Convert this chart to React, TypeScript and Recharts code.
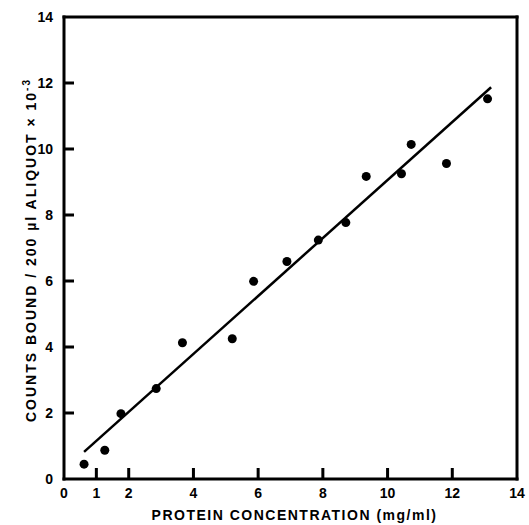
import React from 'react';
import { ComposedChart, Scatter, Line, XAxis, YAxis, Label } from 'recharts';

// measured points (mg/ml, counts x 10^-3)
const proteinConc = [0.62, 1.26, 1.76, 2.85, 3.66, 5.2, 5.86, 6.89, 7.86, 8.71, 9.34, 10.43, 10.73, 11.82, 13.09];
const countsBound = [0.45, 0.87, 1.98, 2.74, 4.13, 4.25, 5.99, 6.59, 7.24, 7.77, 9.17, 9.25, 10.14, 9.56, 11.52];

// fitted line end points
const fitX = [0.62, 13.2];
const fitY = [0.82, 11.87];

const xTicks = [0, 1, 2, 4, 6, 8, 10, 12, 14];
const yTicks = [0, 2, 4, 6, 8, 10, 12, 14];

const points = proteinConc.map((x, i) => ({ x, y: countsBound[i] }));
const fitLine = fitX.map((x, i) => ({ x, y: fitY[i] }));

const W = 529;
const H = 525;
const M = { top: 17, right: 12, bottom: 0, left: 0 };
const FONT = '"Liberation Sans", Arial, sans-serif';
const INK = '#000';
const LW = 3;

const XTick = (props: any) => {
  const { x, y, payload } = props;
  const v = Number(payload.value);
  return (
    <g>
      {v > 0 && v < 14 && <rect x={x - 1.5} y={y - 11} width={3} height={11} fill={INK} />}
      <text x={x} y={y + 19} textAnchor="middle" fontFamily={FONT} fontWeight="bold" fontSize={14} fill={INK}>
        {v}
      </text>
    </g>
  );
};

const YTick = (props: any) => {
  const { x, y, payload } = props;
  const v = Number(payload.value);
  return (
    <g>
      {v > 0 && v < 14 && <rect x={x} y={y - 1.5} width={10} height={3} fill={INK} />}
      <text x={x - 11} y={y + 5} textAnchor="end" fontFamily={FONT} fontWeight="bold" fontSize={14} fill={INK}>
        {v}
      </text>
    </g>
  );
};

const YTitle = (props: any) => {
  const { viewBox } = props;
  const cx = 36;
  const cy = viewBox.y + viewBox.height / 2 + 2;
  return (
    <text
      x={cx}
      y={cy}
      transform={`rotate(-90, ${cx}, ${cy})`}
      textAnchor="middle"
      fontFamily={FONT}
      fontWeight="bold"
      fontSize={14}
      letterSpacing={2}
      fill={INK}
    >
      COUNTS  BOUND / 200 µl  ALIQUOT × 10
      <tspan dy={-6} fontSize={10}>-3</tspan>
    </text>
  );
};

// x title plus the box round the plot, taken from the axis' own viewBox
const XTitle = (props: any) => {
  const { viewBox } = props;
  const left = viewBox.x;
  const right = viewBox.x + viewBox.width;
  const bottom = viewBox.y;
  const top = M.top;
  const cx = left + viewBox.width / 2 + 4;
  return (
    <g>
      <rect x={left - LW / 2} y={top - LW / 2} width={LW} height={bottom - top + LW} fill={INK} />
      <rect x={right - LW / 2} y={top - LW / 2} width={LW} height={bottom - top + LW} fill={INK} />
      <rect x={left - LW / 2} y={top - LW / 2} width={right - left + LW} height={LW} fill={INK} />
      <rect x={left - LW / 2} y={bottom - LW / 2} width={right - left + LW} height={LW} fill={INK} />
      <text x={cx} y={520} textAnchor="middle" fontFamily={FONT} fontWeight="bold" fontSize={14} letterSpacing={1.5} fill={INK}>
        PROTEIN  CONCENTRATION  (mg/ml)
      </text>
    </g>
  );
};

export default function App() {
  return (
    <div style={{ position: 'absolute', left: 0, top: 0, background: '#fff' }}>
      <ComposedChart width={W} height={H} margin={M}>
        <XAxis
          dataKey="x"
          type="number"
          domain={[0, 14]}
          ticks={xTicks}
          interval={0}
          height={46}
          tickSize={0}
          tickMargin={0}
          axisLine={false}
          tickLine={false}
          tick={<XTick />}
        >
          <Label content={<XTitle />} />
        </XAxis>
        <YAxis
          dataKey="y"
          type="number"
          domain={[0, 14]}
          ticks={yTicks}
          interval={0}
          width={64}
          tickSize={0}
          tickMargin={0}
          axisLine={false}
          tickLine={false}
          tick={<YTick />}
        >
          <Label content={<YTitle />} />
        </YAxis>
        <Line data={fitLine} dataKey="y" stroke={INK} strokeWidth={2.5} dot={false} isAnimationActive={false} />
        <Scatter
          data={points}
          fill={INK}
          isAnimationActive={false}
          shape={(p: any) => <circle cx={p.cx} cy={p.cy} r={4.5} fill={INK} />}
        />
      </ComposedChart>
    </div>
  );
}
